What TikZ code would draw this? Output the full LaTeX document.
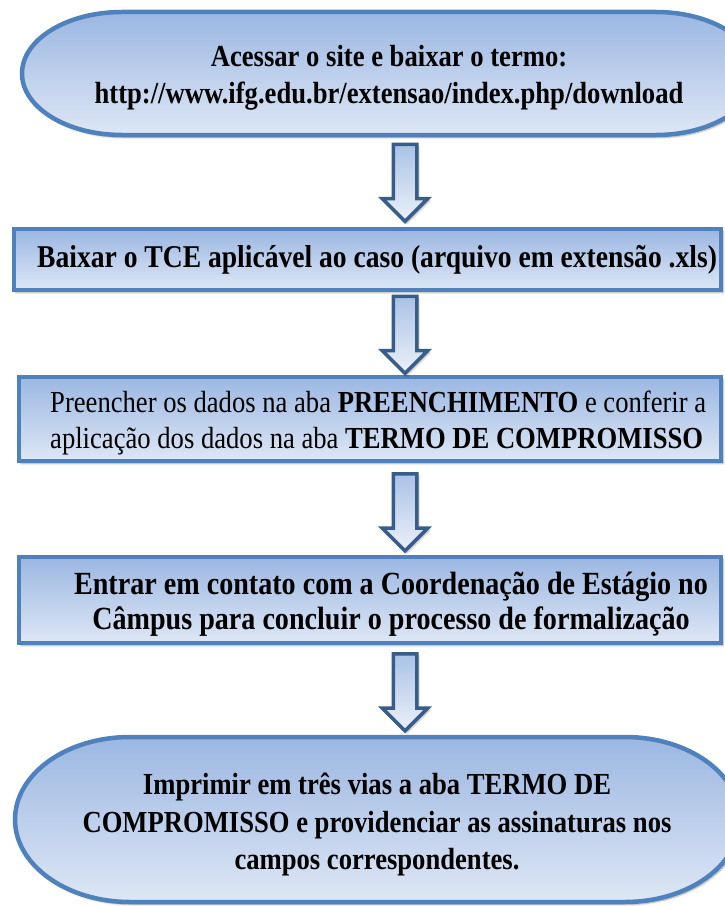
\documentclass[tikz,border=0pt]{standalone}
\usepackage{fontspec}
\setmainfont{Liberation Serif}[FakeStretch=0.87]
\usetikzlibrary{shapes.arrows, shadows.blur, backgrounds, calc}
\definecolor{flowEdge}{RGB}{79,129,189}
\definecolor{flowDark}{RGB}{56,93,138}
\definecolor{flowTop}{RGB}{155,183,226}
\definecolor{flowBot}{RGB}{222,231,245}

\begin{document}
\begin{tikzpicture}[x=1pt,y=-1pt,
  fillshade/.style={top color=flowTop,bottom color=flowBot,
                    blur shadow={shadow blur steps=6,shadow xshift=2pt,shadow yshift=-2.5pt,shadow opacity=35}},
  stepbox/.style={fillshade,draw=flowEdge,line width=4.5pt,inner sep=0pt},
  pillbox/.style={fillshade,draw=flowEdge,line width=4.5pt},
  txt/.style={inner sep=0pt,font=\bfseries\fontsize{30.6}{37}\selectfont},
  downarrow/.style={single arrow,shape border rotate=270,draw=flowDark,line width=3.5pt,
                    top color=flowTop!85,bottom color=flowBot!60,inner sep=10pt,
                    minimum height=77pt,
                    single arrow head extend=11pt,single arrow tip angle=90,
                    blur shadow={shadow blur steps=5,shadow xshift=2pt,shadow yshift=-2pt,shadow opacity=30}}]
\useasboundingbox (0,0) rectangle (725,907);

% Start (pill)
\path[pillbox] (122,12) -- (656,12) arc[start angle=-90,end angle=90,x radius=100,y radius=61.5]
  -- (122,135) arc[start angle=90,end angle=270,x radius=100,y radius=61.5] -- cycle;
\node[txt,align=center] (start) at (389,78)
  {Acessar o site e baixar o termo:\\ http://www.ifg.edu.br/extensao/index.php/download};

% Steps
\node[stepbox,minimum width=707pt,minimum height=61pt] (tce) at (367.5,259.5) {};
\node[txt,anchor=west,font=\bfseries\fontsize{31.7}{35}\selectfont] (tcetxt) at (37,260)
  {Baixar o TCE aplicável ao caso (arquivo em extensão .xls)};

\node[stepbox,minimum width=702pt,minimum height=84pt] (fill) at (370,419) {};
\node[txt,anchor=west,align=left,font=\fontsize{30.6}{35.5}\selectfont] (filltxt) at (50,423)
  {Preencher os dados na aba \textbf{PREENCHIMENTO} e conferir a\\
   aplicação dos dados na aba \textbf{TERMO DE COMPROMISSO}};

\node[stepbox,minimum width=702pt,minimum height=86pt] (coord) at (370,600) {};
\node[txt,align=center,font=\bfseries\fontsize{32.3}{35}\selectfont] (coordtxt) at (391,604.5)
  {Entrar em contato com a Coordenação de Estágio no\\
   Câmpus para concluir o processo de formalização};

% End (pill)
\path[pillbox] (130,737) -- (625,737) arc[start angle=-90,end angle=90,x radius=115,y radius=82.5]
  -- (130,902) arc[start angle=90,end angle=270,x radius=115,y radius=82.5] -- cycle;
\node[txt,align=center,font=\bfseries\fontsize{30.6}{37.5}\selectfont] (print) at (377,824.5)
  {Imprimir em três vias a aba TERMO DE\\
   COMPROMISSO e providenciar as assinaturas nos\\
   campos correspondentes.};

% Block arrows
\node[downarrow] (a1) at (405,177) {};
\node[downarrow] (a2) at (405,329) {};
\node[downarrow] (a3) at (405,506.5) {};
\node[downarrow] (a4) at (405,686.5) {};
\end{tikzpicture}
\end{document}
